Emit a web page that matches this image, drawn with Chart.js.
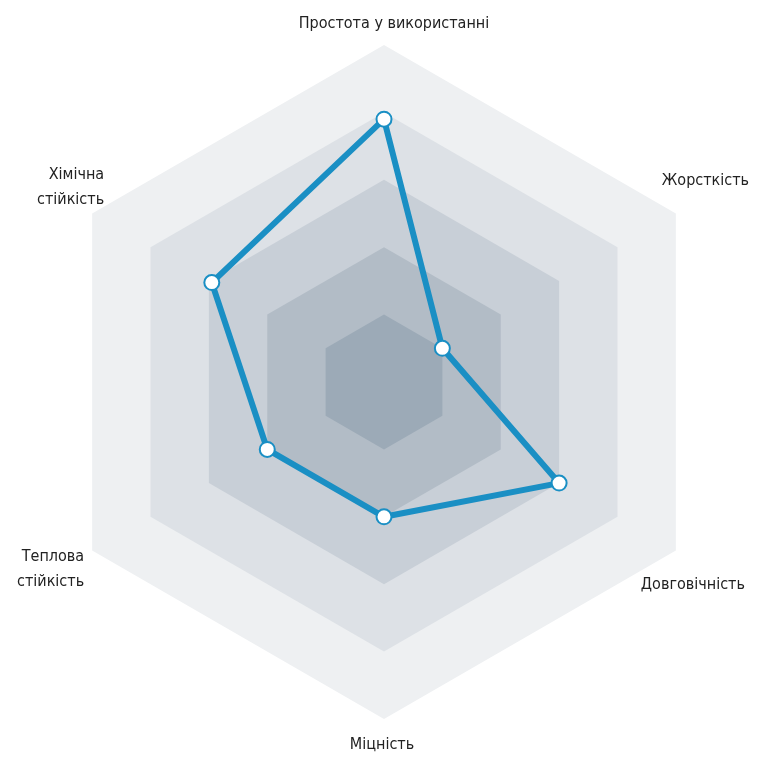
<!DOCTYPE html>
<html><head><meta charset="utf-8">
<script src="https://cdn.jsdelivr.net/npm/chart.js@4/dist/chart.umd.min.js"></script>
<style>html,body{margin:0;background:#fff}#wrap{width:768px;height:768px}</style>
</head><body><div id="wrap"><canvas id="c"></canvas></div>
<script>
const categories = ['Простота у використанні', 'Жорсткість', 'Довговічність', 'Міцність', ['Теплова', 'стійкість'], ['Хімічна', 'стійкість']];
const values = [3.9, 1.0, 3.0, 2.0, 2.0, 2.95];
const levels = [5, 4, 3, 2, 1];
const levelColors = ['#eef0f2', '#dde1e6', '#c8cfd7', '#b2bcc6', '#9caab7'];
// label placement relative to outer vertex: dx, dy, align
const labelPlace = [[10, -21, 'center'], [-14, -33, 'left'], [-35, 34, 'left'], [-2, 26, 'center'], [-8, 19, 'right'], [12, -26, 'right']];

const bands = {
  id: 'bands',
  beforeDatasetsDraw(chart) {
    const s = chart.scales.r, ctx = chart.ctx;
    levels.forEach((lv, k) => {
      ctx.beginPath();
      for (let i = 0; i < categories.length; i++) {
        const p = s.getPointPosition(i, s.getDistanceFromCenterForValue(lv));
        i ? ctx.lineTo(p.x, p.y) : ctx.moveTo(p.x, p.y);
      }
      ctx.closePath();
      ctx.fillStyle = levelColors[k];
      ctx.fill();
    });
    ctx.save();
    ctx.font = '16px "DejaVu Sans Condensed", "Roboto", sans-serif';
    ctx.fillStyle = '#222';
    ctx.textBaseline = 'middle';
    categories.forEach((lab, i) => {
      const p = s.getPointPosition(i, s.drawingArea);
      const [dx, dy, al] = labelPlace[i];
      const lines = Array.isArray(lab) ? lab : [lab];
      ctx.textAlign = al;
      lines.forEach((t, j) => {
        const y = p.y + dy + (j - (lines.length - 1) / 2) * 25;
        ctx.fillText(t, p.x + dx, y);
      });
    });
    ctx.restore();
  }
};

new Chart(document.getElementById('c'), {
  type: 'radar',
  data: {
    labels: categories,
    datasets: [{
      data: values,
      borderColor: '#1a8fc4',
      borderWidth: 6,
      fill: false,
      pointBackgroundColor: '#fff',
      pointBorderColor: '#1a8fc4',
      pointBorderWidth: 2,
      pointRadius: 7.5
    }]
  },
  options: {
    responsive: true, maintainAspectRatio: false, animation: false,
    layout: { padding: { top: 45, bottom: 49, left: 47, right: 47 } },
    plugins: { legend: { display: false }, tooltip: { enabled: false } },
    scales: {
      r: {
        min: 0, max: 5,
        ticks: { display: false, stepSize: 1 },
        grid: { display: false },
        angleLines: { display: false },
        pointLabels: { display: false }
      }
    }
  },
  plugins: [bands]
});
</script></body></html>
